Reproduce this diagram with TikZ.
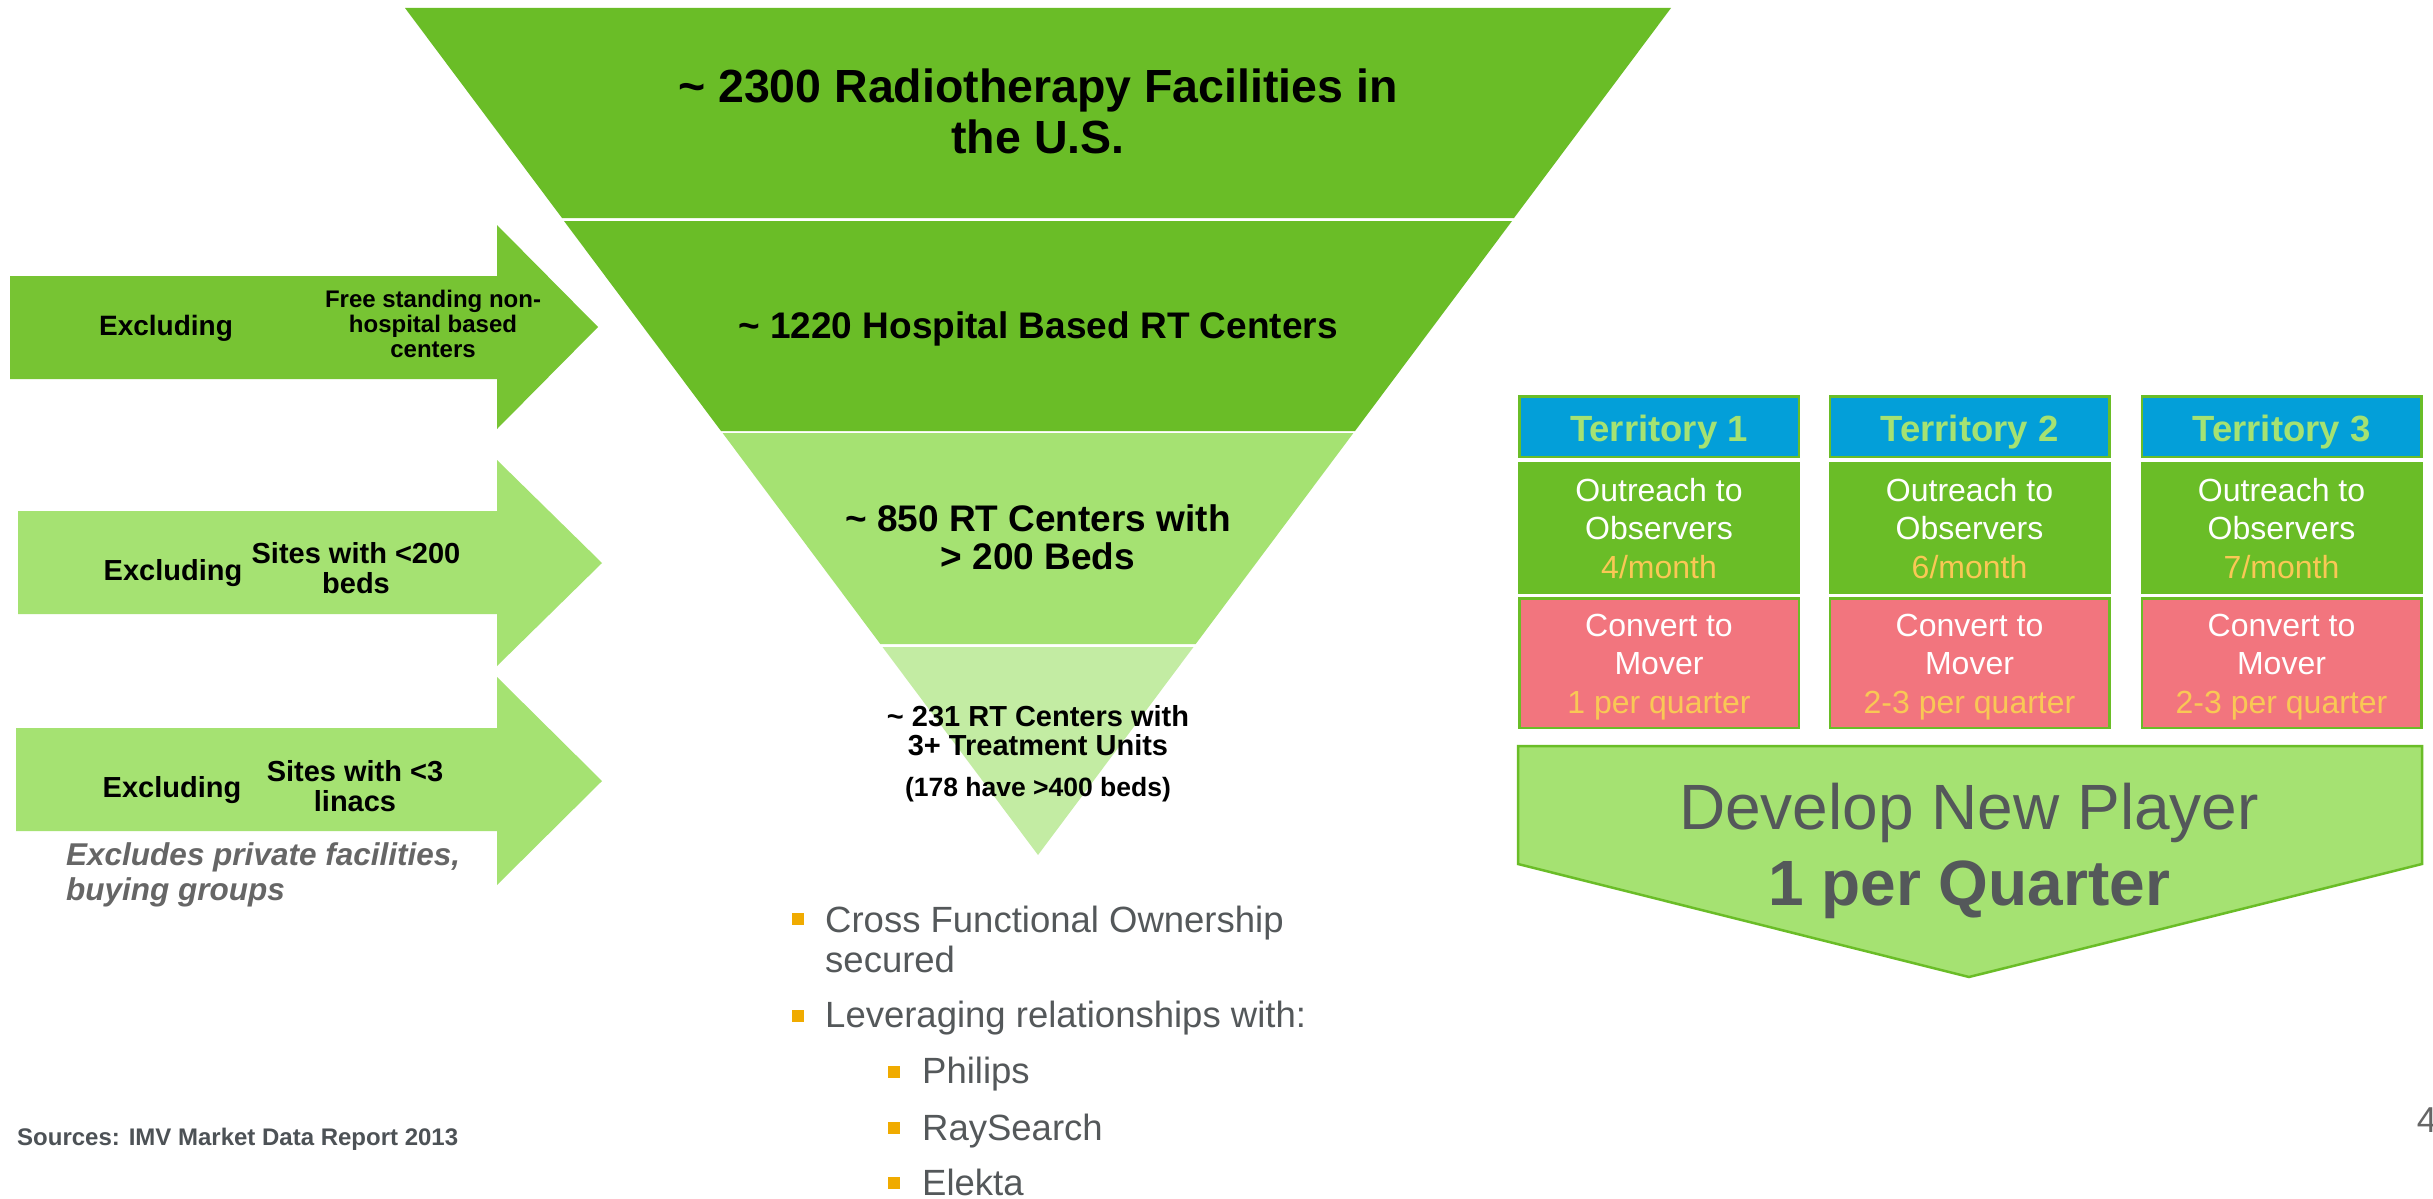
\documentclass[tikz,border=0pt]{standalone}
\usepackage{fontspec}
\setmainfont{Liberation Sans}
\definecolor{gdark}{HTML}{6ABD27}
\definecolor{garrow}{HTML}{77C433}
\definecolor{glight}{HTML}{A5E272}
\definecolor{gpale}{HTML}{C3ECA3}
\definecolor{tblue}{HTML}{039FD9}
\definecolor{tpink}{HTML}{F2757E}
\definecolor{torange}{HTML}{F9C855}
\definecolor{dgray}{HTML}{54585A}
\definecolor{mgray}{HTML}{666666}
\definecolor{sgray}{HTML}{4D5256}
\definecolor{bullet}{HTML}{F0AB00}
\begin{document}
\begin{tikzpicture}[x=1pt,y=-1pt,
  txt/.style={inner sep=0pt, anchor=base, align=center},
  txtl/.style={inner sep=0pt, anchor=base west, align=left},
  box/.style={draw=gdark, line width=2.5pt, minimum width=279.5pt, inner sep=0pt},
  hdr/.style={box, fill=tblue, minimum height=60.5pt},
  outr/.style={box, fill=gdark, minimum height=129.5pt},
  conv/.style={box, fill=tpink, minimum height=129.5pt},
  hdrtxt/.style={txt, text=glight, font=\fontsize{36.5}{38}\selectfont\bfseries},
  boxtxt/.style={txt, text=white, font=\fontsize{32}{38.3}\selectfont},
  bul/.style={fill=bullet}
]
\useasboundingbox (0,0) rectangle (2433,1199);
\fill[white] (0,0) rectangle (2433,1199);

% ---------- funnel ----------
\fill[gdark]  (405,8) -- (1671,8) -- (1514,218) -- (562,218) -- cycle;
\fill[gdark]  (564,221) -- (1512,221) -- (1355,431) -- (721,431) -- cycle;
\fill[glight] (722.6,433) -- (1353.4,433) -- (1195.7,644) -- (880.3,644) -- cycle;
\fill[gpale]  (882.5,647) -- (1193.5,647) -- (1038,855) -- cycle;

% (multi-line nodes: base = baseline of last line)
\node[txt, font=\fontsize{46.5}{51}\selectfont\bfseries] (f1) at (1038,153) {\char`~\ 2300 Radiotherapy Facilities in\\the U.S.};
\node[txt, font=\fontsize{37}{38}\selectfont\bfseries] (f2) at (1038,338) {\char`~\ 1220 Hospital Based RT Centers};
\node[txt, font=\fontsize{37}{38}\selectfont\bfseries] (f3) at (1038,569) {\char`~\ 850 RT Centers with\\> 200 Beds};
\node[txt, font=\fontsize{29}{29}\selectfont\bfseries] (f4) at (1038,755) {\char`~\ 231 RT Centers with\\3+ Treatment Units};
\node[txt, font=\fontsize{26.5}{28}\selectfont\bfseries] (f4b) at (1038,796) {(178 have >400 beds)};

% ---------- left arrows ----------
\fill[garrow] (10,276) -- (497,276) -- (497,225) -- (598,327) -- (497,429) -- (497,379) -- (10,379) -- cycle;
\fill[glight] (18,511) -- (497,511) -- (497,460) -- (602,563) -- (497,666) -- (497,614) -- (18,614) -- cycle;
\fill[glight] (16,728) -- (497,728) -- (497,677) -- (602,781) -- (497,885) -- (497,831) -- (16,831) -- cycle;

\node[txt, font=\fontsize{28}{30}\selectfont\bfseries] (a1x) at (166,335) {Excluding};
\node[txt, font=\fontsize{24}{25}\selectfont\bfseries] (a1t) at (433,357) {Free standing non-\\hospital based\\centers};
\node[txt, font=\fontsize{29}{29.5}\selectfont\bfseries] (a2x) at (173,580) {Excluding};
\node[txt, font=\fontsize{29}{29.5}\selectfont\bfseries] (a2t) at (356,593) {Sites with <200\\beds};
\node[txt, font=\fontsize{29}{29.5}\selectfont\bfseries] (a3x) at (172,797) {Excluding};
\node[txt, font=\fontsize{29}{29.5}\selectfont\bfseries] (a3t) at (355,811) {Sites with <3\\linacs};
\node[txtl, text=mgray, font=\fontsize{31.5}{35}\selectfont\bfseries\itshape] (excl) at (66,900) {Excludes private facilities,\\buying groups};

% ---------- territories ----------
\foreach \c/\n/\r/\q in {1659/1/4/1, 1969.5/2/6/2-3, 2281.5/3/7/2-3}{
  \node[hdr]  (t\n h) at (\c,426.5) {};
  \node[outr] (t\n o) at (\c,528) {};
  \node[conv] (t\n c) at (\c,663) {};
  \node[hdrtxt] (t\n ht) at (\c,441.4) {Territory \n};
  \node[boxtxt] (t\n ot) at (\c,578) {Outreach to\\Observers\\\textcolor{torange}{\r/month}};
  \node[boxtxt] (t\n ct) at (\c,713) {Convert to\\Mover\\\textcolor{torange}{\q\ per quarter}};
}

% ---------- develop arrow ----------
\filldraw[fill=glight, draw=gdark, line width=2.5pt, line join=miter]
  (1518,746) -- (2422,746) -- (2422,864) -- (1969,977) -- (1518,864) -- cycle;
\node[txt, text=dgray, font=\fontsize{64}{76}\selectfont] (dev1) at (1969,829.5) {Develop New Player};
\node[txt, text=dgray, font=\fontsize{64}{76}\selectfont\bfseries] (dev2) at (1969,905.7) {1 per Quarter};

% ---------- bullets ----------
\fill[bul] (792,913) rectangle (804,925);
\fill[bul] (792,1009.5) rectangle (804,1021.5);
\fill[bul] (888,1065.5) rectangle (900,1077.5);
\fill[bul] (888,1121.5) rectangle (900,1133.5);
\fill[bul] (888,1177) rectangle (900,1189);
\node[txtl, text=dgray, font=\fontsize{36.5}{40}\selectfont] (b1) at (825,972) {Cross Functional Ownership\\secured};
\node[txtl, text=dgray, font=\fontsize{36.5}{40}\selectfont] (b2) at (825,1027.7) {Leveraging relationships with:};
\node[txtl, text=dgray, font=\fontsize{36.5}{40}\selectfont] (b3) at (922,1083.3) {Philips};
\node[txtl, text=dgray, font=\fontsize{36.5}{40}\selectfont] (b4) at (922,1140) {RaySearch};
\node[txtl, text=dgray, font=\fontsize{36.5}{40}\selectfont] (b5) at (922,1195) {Elekta};

% ---------- footer ----------
\node[txtl, text=sgray, font=\fontsize{24}{26}\selectfont\bfseries] (src) at (17,1145.7) {Sources: IMV Market Data Report 2013};
\node[txtl, text=mgray, font=\fontsize{36}{38}\selectfont] (pg) at (2416.7,1132.7) {4};
\end{tikzpicture}
\end{document}
